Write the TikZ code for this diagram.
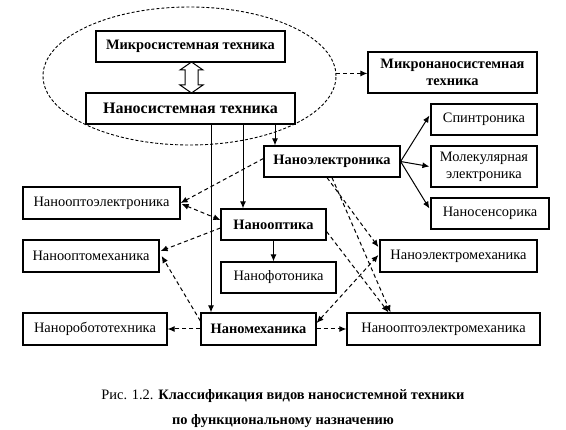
\documentclass[tikz,border=0pt]{standalone}
\usepackage{fontspec}
\setmainfont{Liberation Serif}
\usetikzlibrary{arrows.meta,shapes.geometric,calc}
\begin{document}
\begin{tikzpicture}[x=1pt,y=-1pt,
  box/.style={draw,line width=1.2pt,inner sep=0pt,align=center,font=\fontsize{14.4}{17}\selectfont},
  bbox/.style={box,font=\fontsize{14.4}{17}\selectfont\bfseries},
  tip/.tip={Latex[length=7pt,width=6pt]},
  conn/.style={line width=1pt,-tip},
  dconn/.style={conn,dash pattern=on 4pt off 3pt},
  dconntwo/.style={dconn,tip-tip},
  capt/.style={font=\fontsize{14.4}{17}\selectfont,inner sep=0pt}
]
\useasboundingbox (0,0) rectangle (566,430);
% ellipse
\node[draw,ellipse,dash pattern=on 3pt off 2pt,line width=0.9pt,minimum width=293pt,minimum height=138pt] (ell) at (189.5,76) {};
% nodes
\node[bbox,minimum width=189pt,minimum height=31pt] (mikro) at (190.5,46.5) {Микросистемная техника};
\node[box,font=\fontsize{16}{19}\selectfont\bfseries,minimum width=209pt,minimum height=31pt] (nano) at (190.5,108.5) {Наносистемная техника};
\node[bbox,minimum width=169pt,minimum height=41pt] (mikronano) at (452.5,72.5) {Микронаносистемная\\техника};
\node[box,minimum width=106pt,minimum height=31pt] (spin) at (484,119.5) {Спинтроника};
\node[bbox,minimum width=136pt,minimum height=31pt] (nanoel) at (332,161.5) {Наноэлектроника};
\node[box,minimum width=106pt,minimum height=41pt] (mol) at (484,166.5) {Молекулярная\\электроника};
\node[box,minimum width=118pt,minimum height=31pt] (sens) at (490,213.5) {Наносенсорика};
\node[box,minimum width=157pt,minimum height=32pt] (optoel) at (101.5,203) {Нанооптоэлектроника};
\node[bbox,minimum width=105pt,minimum height=31pt] (optika) at (273.5,224.5) {Нанооптика};
\node[box,minimum width=136pt,minimum height=32pt] (optomeh) at (91,256) {Нанооптомеханика};
\node[box,minimum width=157pt,minimum height=32pt] (elmeh) at (458.5,256) {Наноэлектромеханика};
\node[box,minimum width=115pt,minimum height=31pt] (foto) at (278.5,277.5) {Нанофотоника};
\node[box,minimum width=144pt,minimum height=32pt] (robo) at (95,329) {Наноробототехника};
\node[bbox,minimum width=115pt,minimum height=32pt] (meh) at (258.5,329) {Наномеханика};
\node[box,minimum width=193pt,minimum height=32pt] (optoelmeh) at (443.5,329) {Нанооптоэлектромеханика};
% hollow double arrow
\draw[line width=1pt,fill=white] (191.5,62) -- (203,70) -- (198,70) -- (198,85) -- (203,85) -- (191.5,93) -- (180,85) -- (185,85) -- (185,70) -- (180,70) -- cycle;
% solid connectors
\coordinate (xa) at (211,0);
\coordinate (xb) at (243,0);
\coordinate (xc) at (275,0);
\draw[conn] (nano.south -| xa) -- (meh.north -| xa);
\draw[conn] (nano.south -| xb) -- (optika.north -| xb);
\draw[conn] (nano.south -| xc) -- (nanoel.north -| xc);
\draw[conn] (nanoel.east) -- ($(spin.west)+(-1,-4)$);
\draw[conn] (nanoel.east) -- ($(mol.west)+(-1,0)$);
\draw[conn] (nanoel.east) -- ($(sens.west)+(-1,-5)$);
\draw[conn] (optika.south) -- (optika.south |- foto.north);
% dashed connectors
\draw[dconn] (ell.1.5) -- (ell.1.5 -| mikronano.west);
\draw[dconn] ($(nanoel.west)+(0,-3)$) -- (optoel.east);
\draw[dconntwo] ($(optoel.east)+(1,1)$) -- ($(optika.west)+(0,-4.5)$);
\draw[dconn] ($(optika.west)+(0,3.5)$) -- ($(optomeh.east)+(1,-5)$);
\draw[dconn] ($(meh.west)+(0,-8)$) -- ($(optomeh.east)+(2,0)$);
\draw[dconn] (meh.west) -- (robo.east);
\draw[dconn] (meh.east) -- (optoelmeh.west);
\draw[dconntwo] ($(meh.east)+(0,-6)$) -- ($(elmeh.west)+(-1,-1)$);
\draw[dconn] ($(nanoel.south)+(-5,0)$) -- ($(elmeh.west)+(-1,-9)$);
\draw[dconn] (nanoel.south) -- ($(optoelmeh.north)+(-53,0)$);
\draw[dconn] ($(optika.east)+(0,7)$) -- ($(optoelmeh.north)+(-55,0)$);
% caption
\node[capt] (cap1) at (283,396) {Рис. 1.2. \textbf{Классификация видов наносистемной техники}};
\node[capt,font=\fontsize{14.4}{17}\selectfont\bfseries] (cap2) at (283,421) {по функциональному назначению};
\end{tikzpicture}
\end{document}
